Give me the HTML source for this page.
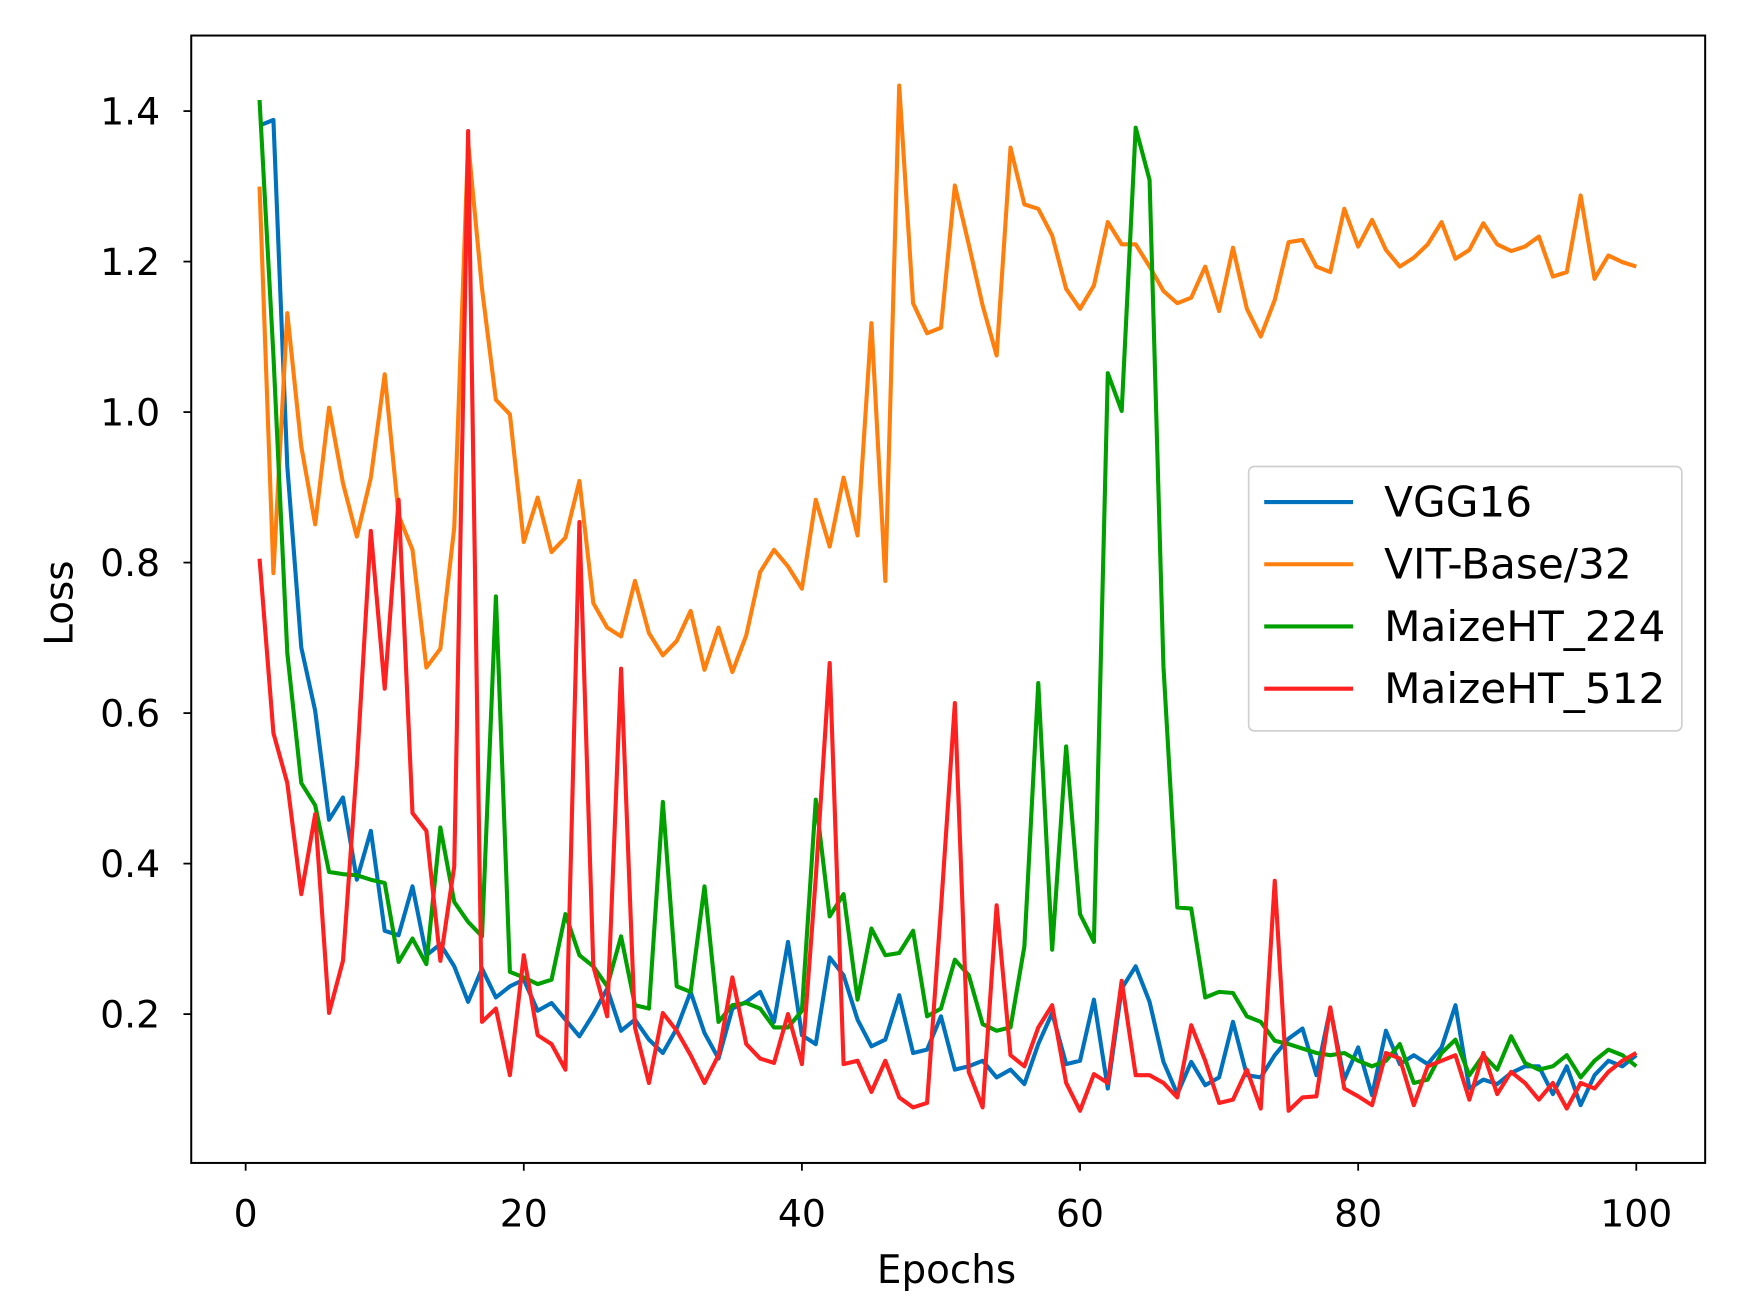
<!DOCTYPE html>
<html><head><meta charset="utf-8"><style>html,body{margin:0;padding:0;background:#fff}svg{display:block}text{font-family:"DejaVu Sans","Liberation Sans",sans-serif;fill:#000}</style></head>
<body>
<svg id="s" width="1742" height="1314" viewBox="0 0 1568 1183" xmlns="http://www.w3.org/2000/svg">
<rect width="1568" height="1183" fill="#fff"/>
<g id="lines" fill="none" stroke-width="3.7" stroke-linejoin="round"></g>
<rect x="172" y="32" width="1363" height="1015" fill="none" stroke="#000" stroke-width="1.8"/>
<g stroke="#000" stroke-width="1.6">
<line x1="221" y1="1047" x2="221" y2="1054"/><line x1="471.4" y1="1047" x2="471.4" y2="1054"/><line x1="721.8" y1="1047" x2="721.8" y2="1054"/><line x1="972.2" y1="1047" x2="972.2" y2="1054"/><line x1="1222.6" y1="1047" x2="1222.6" y2="1054"/><line x1="1473" y1="1047" x2="1473" y2="1054"/>
<line x1="165" y1="100" x2="172" y2="100"/><line x1="165" y1="235.5" x2="172" y2="235.5"/><line x1="165" y1="371" x2="172" y2="371"/><line x1="165" y1="506.5" x2="172" y2="506.5"/><line x1="165" y1="642" x2="172" y2="642"/><line x1="165" y1="777.5" x2="172" y2="777.5"/><line x1="165" y1="913" x2="172" y2="913"/>
</g>
<g font-size="34" text-anchor="middle">
<text x="221" y="1104">0</text><text x="471.4" y="1104">20</text><text x="721.8" y="1104">40</text><text x="972.2" y="1104">60</text><text x="1222.6" y="1104">80</text><text x="1473" y="1104">100</text>
</g>
<g font-size="34" text-anchor="end">
<text x="144" y="112">1.4</text><text x="144" y="247.5">1.2</text><text x="144" y="383">1.0</text><text x="144" y="518.5">0.8</text><text x="144" y="654">0.6</text><text x="144" y="789.5">0.4</text><text x="144" y="925">0.2</text>
</g>
<text x="852" y="1155" font-size="35" text-anchor="middle">Epochs</text>
<text transform="translate(65,543) rotate(-90)" font-size="35" text-anchor="middle">Loss</text>
<rect x="1124" y="420" width="390" height="238" rx="5" fill="#fff" fill-opacity="0.8" stroke="#d0d0d0" stroke-width="1.5"/>
<line x1="1138" y1="452" x2="1218" y2="452" stroke="#0072BD" stroke-width="3.7"/>
<line x1="1138" y1="508" x2="1218" y2="508" stroke="#FF7F0E" stroke-width="3.7"/>
<line x1="1138" y1="564" x2="1218" y2="564" stroke="#00A000" stroke-width="3.7"/>
<line x1="1138" y1="620" x2="1218" y2="620" stroke="#FF2020" stroke-width="3.7"/>
<g font-size="38"><text x="1246" y="465">VGG16</text><text x="1246" y="521">VIT-Base/32</text><text x="1246" y="577">MaizeHT_224</text><text x="1246" y="633">MaizeHT_512</text></g>
</svg>
<script>
var B=[113,108,420,583,640,738,718,792,748,838,842,798,860,850,870,902,872,898,888,882,910,903,918,933,913,890,928,918,936,948,926,893,930,953,908,902,893,920,848,932,940,862,878,918,942,936,896,948,945,915,963,960,955,970,963,976,940,912,958,955,900,980,890,870,902,956,985,956,977,970,920,968,970,950,935,926,968,908,972,943,986,928,958,950,958,943,905,980,972,976,966,960,960,985,960,995,968,955,960,950];
var O=[168,516,282,402,472,367,435,483,430,337,464,495,601,584,475,128,260,360,373,488,448,497,484,433,543,565,573,523,570,590,577,550,603,565,605,572,515,495,510,530,450,492,430,482,291,523,77,273,300,295,167,220,275,320,133,184,188,212,260,278,257,200,220,220,240,262,273,268,240,280,223,278,303,270,218,216,240,245,188,222,198,225,240,232,220,200,233,225,201,220,226,222,213,249,245,176,251,230,236,240];
var G=[90,320,588,705,725,785,787,788,792,795,866,845,868,745,812,830,843,537,875,880,886,882,823,860,870,888,843,905,908,722,888,893,798,920,905,903,908,925,925,910,720,825,805,900,836,860,858,838,915,908,864,878,922,928,925,852,615,855,672,823,848,336,370,115,162,600,817,818,898,893,894,915,920,937,940,944,948,950,948,955,960,955,940,975,972,948,936,968,950,963,933,957,963,960,950,970,955,945,950,960];
var R=[503,660,705,805,733,912,865,690,478,620,450,732,748,865,780,118,920,908,968,860,932,940,963,470,870,915,602,925,975,912,928,950,975,950,880,940,953,957,913,958,790,597,958,955,983,955,988,997,993,818,633,965,997,815,950,960,925,905,975,1000,967,975,883,968,968,975,988,923,955,993,990,963,998,793,1000,988,987,907,980,987,995,948,953,995,960,955,950,990,948,985,965,975,990,975,998,975,980,965,955,948];
var g=document.getElementById('lines');
[[B,'#0072BD'],[O,'#FF7F0E'],[G,'#00A000'],[R,'#FF2020']].forEach(function(a){
var p=a[0].map(function(v,i){return (233.5+i*12.52).toFixed(1)+','+v}).join(' ');
var e=document.createElementNS('http://www.w3.org/2000/svg','polyline');
e.setAttribute('points',p);e.setAttribute('stroke',a[1]);g.appendChild(e);});
</script>
</body></html>
